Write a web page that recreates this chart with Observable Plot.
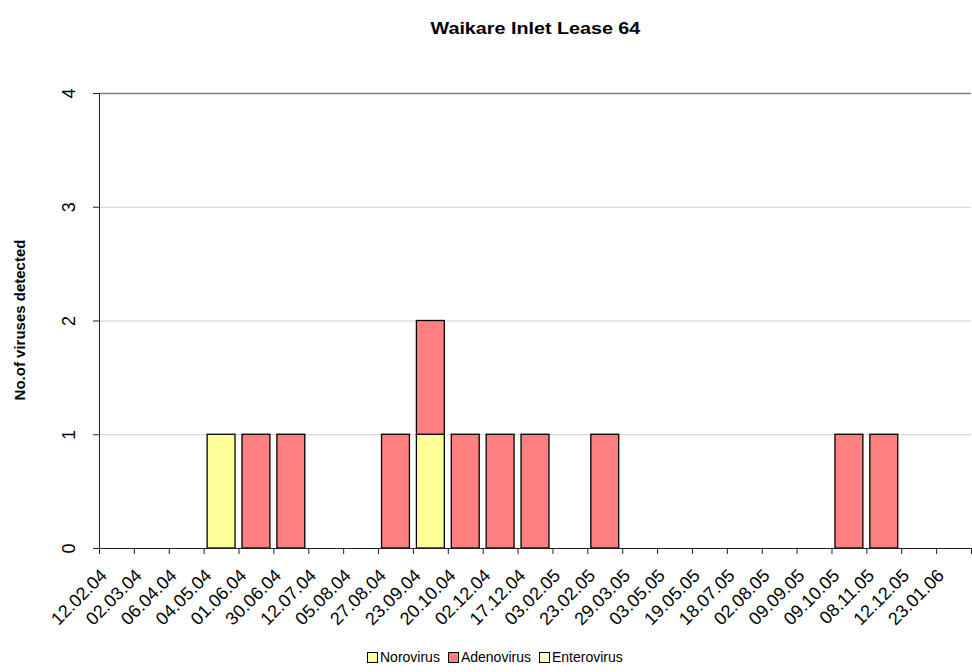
<!DOCTYPE html>
<html><head><meta charset="utf-8">
<script src="https://cdn.jsdelivr.net/npm/d3@7"></script>
<script src="https://cdn.jsdelivr.net/npm/@observablehq/plot@0.6"></script>
<style>
body{margin:0;background:#fff;font-family:"Liberation Sans",Arial,sans-serif;}
#wrap{position:relative;width:972px;height:672px;overflow:hidden;}
#title{position:absolute;left:99px;width:872px;top:19px;text-align:center;font-weight:bold;font-size:17px;}
#title span{display:inline-block;transform:scaleX(1.16);}
#ylabel{position:absolute;left:19px;top:320px;transform:translate(-50%,-50%) rotate(-90deg);font-weight:bold;font-size:15px;white-space:nowrap;}
#legend{position:absolute;top:649px;left:367px;font-size:14px;white-space:nowrap;display:flex;align-items:center;}
#legend .sw{display:inline-block;width:9px;height:9px;border:1px solid #000;margin-right:2px;}
#legend .it{display:inline-flex;align-items:center;margin-right:8px;}
</style></head>
<body><div id="wrap"><div id="title"><span>Waikare Inlet Lease 64</span></div><div id="ylabel">No.of viruses detected</div><div id="legend"></div></div>
<script>
const categories = ["12.02.04","02.03.04","06.04.04","04.05.04","01.06.04","30.06.04","12.07.04","05.08.04","27.08.04","23.09.04","20.10.04","02.12.04","17.12.04","03.02.05","23.02.05","29.03.05","03.05.05","19.05.05","18.07.05","02.08.05","09.09.05","09.10.05","08.11.05","12.12.05","23.01.06"];
const seriesNames = ["Norovirus","Adenovirus","Enterovirus"];
const seriesColors = ["#FFFF99","#FF8080","#FFFFCC"];
const norovirus   = [0,0,0,1,0,0,0,0,0,1,0,0,0,0,0,0,0,0,0,0,0,0,0,0,0];
const adenovirus  = [0,0,0,0,1,1,0,0,1,1,1,1,1,0,1,0,0,0,0,0,0,1,1,0,0];
const enterovirus = [0,0,0,0,0,0,0,0,0,0,0,0,0,0,0,0,0,0,0,0,0,0,0,0,0];
const yTicks = [0,1,2,3,4];

const seriesValues = [norovirus, adenovirus, enterovirus];
const rows = [];
categories.forEach((c,i)=>seriesNames.forEach((s,j)=>rows.push({date:c, virus:s, value:seriesValues[j][i]})));

const W=972,H=672,mL=99,mR=1,mT=93,mB=124;
const step=(W-mL-mR)/categories.length;

const chart = Plot.plot({
  width:W, height:H, marginLeft:mL, marginRight:mR, marginTop:mT, marginBottom:mB,
  style:{fontFamily:"'Liberation Sans', Arial, sans-serif", fontSize:"18px", color:"black", background:"white", overflow:"visible"},
  x:{domain:categories, paddingInner:0.2, paddingOuter:0.1, round:false, axis:null, label:null},
  y:{domain:[0,4], axis:null, label:null},
  color:{domain:seriesNames, range:seriesColors},
  marks:[
    Plot.gridY(yTicks.slice(1,4), {stroke:"#d0d0d0", strokeOpacity:1}),
    Plot.gridY([4], {stroke:"#808080", strokeOpacity:1, strokeWidth:1.5}),
    Plot.barY(rows, {x:"date", y:"value", fill:"virus", stroke:"black", strokeWidth:1.3, filter:d=>d.value>0, order:seriesNames}),
    Plot.frame({anchor:"left", stroke:"#222"}),
    Plot.ruleY([0], {stroke:"#222"}),
    Plot.axisY(yTicks, {tickSize:6, tickRotate:-90, tickPadding:19, tickFormat:d=>String(d), stroke:"#222", label:null}),
    Plot.axisX(categories, {tickSize:6, tickFormat:()=>"", dx:-step/2, stroke:"#222", label:null}),
    Plot.axisX([categories[categories.length-1]], {tickSize:6, tickFormat:()=>"", dx:step/2, stroke:"#222", label:null}),
    Plot.axisX(categories, {tickSize:0, tickRotate:-45, tickPadding:24, dx:-13, label:null})
  ]
});
chart.style.position="absolute"; chart.style.left="0"; chart.style.top="0";
document.getElementById("wrap").prepend(chart);

const leg=document.getElementById("legend");
seriesNames.forEach((s,i)=>{
  const it=document.createElement("span"); it.className="it";
  const sw=document.createElement("span"); sw.className="sw"; sw.style.background=seriesColors[i];
  it.appendChild(sw); it.appendChild(document.createTextNode(s)); leg.appendChild(it);
});
</script></body></html>
